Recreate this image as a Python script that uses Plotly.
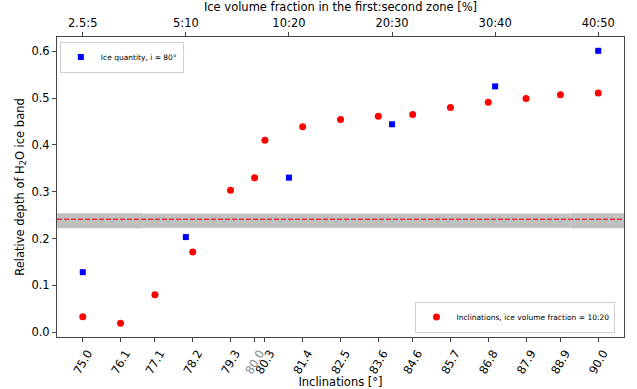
import plotly.graph_objects as go

# ---- data ----
incl_labels = ["75.0", "76.1", "77.1", "78.2", "79.3", "80.0", "80.3", "81.4",
               "82.5", "83.6", "84.6", "85.7", "86.8", "87.9", "88.9", "90.0"]
incl_values = [75.0, 76.1, 77.1, 78.2, 79.3, 80.0, 80.3, 81.4,
               82.5, 83.6, 84.6, 85.7, 86.8, 87.9, 88.9, 90.0]
incl_depth = [0.033, 0.019, 0.080, 0.171, 0.303, 0.330, 0.410, 0.439,
              0.454, 0.461, 0.465, 0.480, 0.491, 0.499, 0.507, 0.511]

fraction_labels = ["2.5:5", "5:10", "10:20", "20:30", "30:40", "40:50"]
fraction_pos = [75.0, 78.0, 81.0, 84.0, 87.0, 90.0]
fraction_depth = [0.128, 0.203, 0.330, 0.444, 0.525, 0.601]

ref_depth = 0.241
ref_low = 0.222
ref_high = 0.254
band_inner = (76.76, 89.19)

y_ticks = [0.0, 0.1, 0.2, 0.3, 0.4, 0.5, 0.6]

FONT = "DejaVu Sans"
x_range = [74.25, 90.75]
y_range = [-0.0105, 0.6305]

fig = go.Figure()

fig.add_trace(go.Scatter(
    x=fraction_pos, y=fraction_depth, xaxis="x2", mode="markers",
    marker=dict(symbol="square", size=6, color="#0000ff"),
    name="Ice quantity, i = 80°", legend="legend"))

fig.add_trace(go.Scatter(
    x=incl_values, y=incl_depth, mode="markers",
    marker=dict(symbol="circle", size=7, color="#ff0000"),
    name="Inclinations, ice volume fraction = 10:20", legend="legend2"))

# reference band
shapes = [
    dict(type="rect", xref="x", yref="y", x0=x_range[0], x1=band_inner[0],
         y0=ref_low, y1=ref_high, fillcolor="#c0c0c0", line_width=0, layer="below"),
    dict(type="rect", xref="x", yref="y", x0=band_inner[1], x1=x_range[1],
         y0=ref_low, y1=ref_high, fillcolor="#c0c0c0", line_width=0, layer="below"),
    dict(type="rect", xref="x", yref="y", x0=band_inner[0], x1=band_inner[1],
         y0=ref_low, y1=ref_high, fillcolor="#d6d6d6", line_width=0, layer="below"),
    dict(type="rect", xref="x", yref="y", x0=band_inner[0], x1=band_inner[1],
         y0=ref_low + 0.002, y1=ref_high - 0.002, fillcolor="#c0c0c0", line_width=0, layer="below"),
    dict(type="line", xref="paper", yref="y", x0=0, x1=1, y0=ref_depth, y1=ref_depth,
         line=dict(color="#ee3030", width=1.5, dash="5px,2px"), layer="above"),
]

bottom_ticktext = [
    ('<span style="color:#888888">%s</span>' % t) if t == "80.0" else t
    for t in incl_labels
]

fig.update_layout(
    width=637, height=389,
    margin=dict(l=57, r=13, t=37, b=52),
    paper_bgcolor="white", plot_bgcolor="white",
    font=dict(family=FONT, size=11.5, color="black"),
    shapes=shapes,
    xaxis=dict(
        range=x_range, tickmode="array", tickvals=incl_values, ticktext=bottom_ticktext,
        tickangle=-60, ticks="outside", ticklen=4, tickcolor="#444",
        ticklabelshift=5,
        showline=True, linecolor="#444", linewidth=1, showgrid=False, zeroline=False,
        tickfont=dict(size=11.5), automargin=False,
        title=dict(text="Inclinations [°]", font=dict(size=11.5), standoff=4),
    ),
    xaxis2=dict(
        range=x_range, overlaying="x", side="top", anchor="y",
        tickmode="array", tickvals=fraction_pos, ticktext=fraction_labels,
        ticks="outside", ticklen=4, tickcolor="#444",
        showline=True, linecolor="#444", linewidth=1, showgrid=False, zeroline=False,
        tickfont=dict(size=11.5), automargin=False,
        title=dict(text="Ice volume fraction in the first:second zone [%]",
                   font=dict(size=11.5), standoff=2),
    ),
    yaxis=dict(
        range=y_range, tickmode="array", tickvals=y_ticks, tickformat=".1f",
        ticks="outside", ticklen=4, tickcolor="#444",
        showline=True, mirror=True, linecolor="#444", linewidth=1,
        showgrid=False, zeroline=False, tickfont=dict(size=11.5), automargin=False,
        title=dict(text="Relative depth of H<sub>2</sub>O ice band",
                   font=dict(size=11.5), standoff=4),
    ),
    legend=dict(x=0.005, y=0.985, xanchor="left", yanchor="top",
                bgcolor="white", bordercolor="#d0d0d0", borderwidth=1,
                font=dict(size=7.5, family=FONT), itemwidth=30,
                tracegroupgap=0),
    legend2=dict(x=0.985, y=0.015, xanchor="right", yanchor="bottom",
                 bgcolor="white", bordercolor="#d0d0d0", borderwidth=1,
                 font=dict(size=7.5, family=FONT), itemwidth=30,
                 tracegroupgap=0),
    showlegend=True,
)

fig.write_html("out.html")
